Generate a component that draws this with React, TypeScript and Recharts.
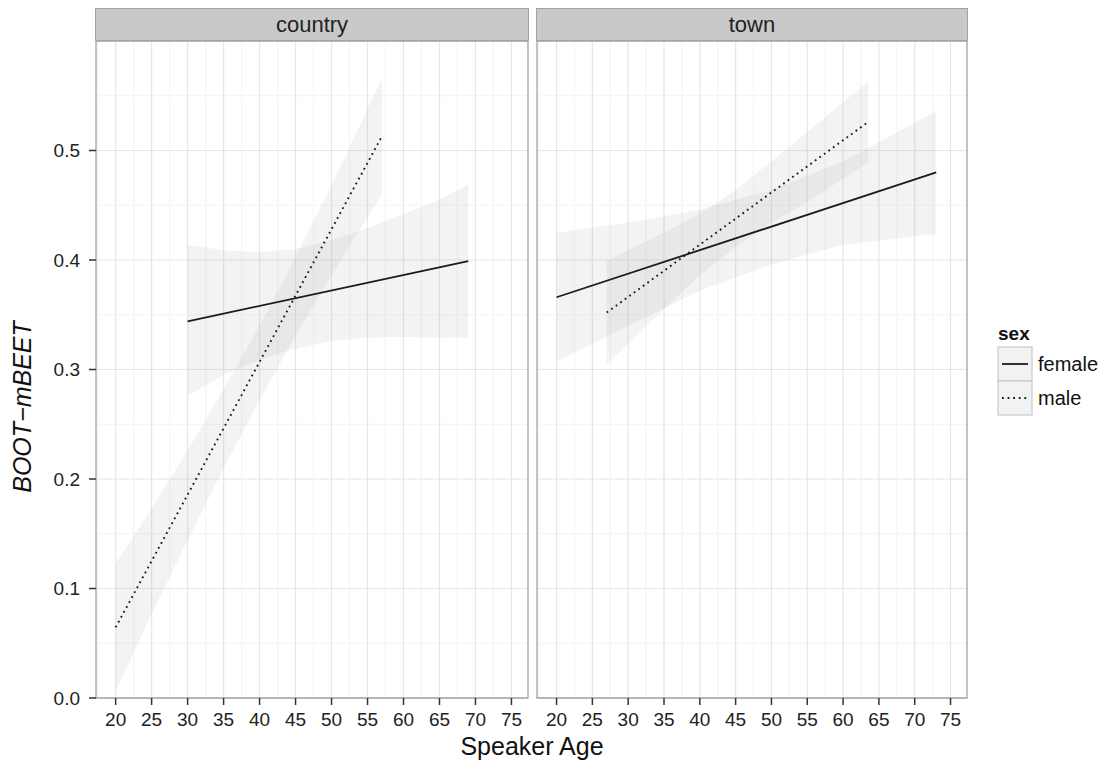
import React from 'react'
import {
  ComposedChart,
  Line,
  Area,
  XAxis,
  YAxis,
  CartesianGrid,
  ReferenceArea,
} from 'recharts'

// axes
const X_DOMAIN: [number, number] = [17.27, 77.3]
const Y_DOMAIN: [number, number] = [0, 0.6]
const xTicks = [20, 25, 30, 35, 40, 45, 50, 55, 60, 65, 70, 75]
const xMinor = [17.5, 22.5, 27.5, 32.5, 37.5, 42.5, 47.5, 52.5, 57.5, 62.5, 67.5, 72.5]
const yTicks = [0, 0.1, 0.2, 0.3, 0.4, 0.5]
const yMinor = [0.05, 0.15, 0.25, 0.35, 0.45, 0.55]

// facet: country
const countryFemaleFit = [
  { age: 30, v: 0.344 },
  { age: 69, v: 0.399 },
]
const countryFemaleBand = [
  { age: 30, lo: 0.276, hi: 0.414 },
  { age: 35, lo: 0.295, hi: 0.409 },
  { age: 40, lo: 0.309, hi: 0.407 },
  { age: 45, lo: 0.319, hi: 0.410 },
  { age: 50, lo: 0.326, hi: 0.418 },
  { age: 55, lo: 0.329, hi: 0.429 },
  { age: 60, lo: 0.330, hi: 0.442 },
  { age: 65, lo: 0.329, hi: 0.455 },
  { age: 69, lo: 0.329, hi: 0.469 },
]
const countryMaleFit = [
  { age: 20, v: 0.0645 },
  { age: 57, v: 0.513 },
]
const countryMaleBand = [
  { age: 20, lo: 0.006, hi: 0.123 },
  { age: 25, lo: 0.077, hi: 0.173 },
  { age: 30, lo: 0.144, hi: 0.226 },
  { age: 35, lo: 0.210, hi: 0.282 },
  { age: 40, lo: 0.272, hi: 0.340 },
  { age: 45, lo: 0.331, hi: 0.403 },
  { age: 50, lo: 0.386, hi: 0.468 },
  { age: 57, lo: 0.460, hi: 0.566 },
]

// facet: town
const townFemaleFit = [
  { age: 20, v: 0.366 },
  { age: 73, v: 0.48 },
]
const townFemaleBand = [
  { age: 20, lo: 0.307, hi: 0.425 },
  { age: 30, lo: 0.340, hi: 0.434 },
  { age: 40, lo: 0.372, hi: 0.446 },
  { age: 50, lo: 0.396, hi: 0.464 },
  { age: 60, lo: 0.414, hi: 0.490 },
  { age: 73, lo: 0.424, hi: 0.536 },
]
const townMaleFit = [
  { age: 27, v: 0.352 },
  { age: 63.5, v: 0.526 },
]
const townMaleBand = [
  { age: 27, lo: 0.305, hi: 0.399 },
  { age: 35, lo: 0.355, hi: 0.425 },
  { age: 40, lo: 0.386, hi: 0.442 },
  { age: 45, lo: 0.412, hi: 0.464 },
  { age: 50, lo: 0.434, hi: 0.490 },
  { age: 55, lo: 0.453, hi: 0.517 },
  { age: 63.5, lo: 0.489, hi: 0.563 },
]

const FONT = '"Liberation Sans", Arial, Helvetica, sans-serif'
const INK = '#1A1A1A'
const DOTTED = '1.8 3.8'

type Pt = { age: number; v: number }
type Band = { age: number; lo: number; hi: number }

const scaleOf = (axis: any, v: number, fallback: () => number) => {
  const s = axis?.scale
  if (typeof s === 'function') return s(v)
  if (s && typeof s.map === 'function') return s.map(v)
  return fallback()
}

const vGen = (vals: number[]) => (props: any) =>
  vals.map((v) =>
    scaleOf(props.xAxis, v, () =>
      props.offset.left + ((v - X_DOMAIN[0]) / (X_DOMAIN[1] - X_DOMAIN[0])) * props.offset.width
    )
  )
const hGen = (vals: number[]) => (props: any) =>
  vals.map((v) =>
    scaleOf(props.yAxis, v, () =>
      props.offset.top + (1 - (v - Y_DOMAIN[0]) / (Y_DOMAIN[1] - Y_DOMAIN[0])) * props.offset.height
    )
  )

interface PanelProps {
  left: number
  width: number
  margin: { top: number; right: number; bottom: number; left: number }
  showY: boolean
  femaleFit: Pt[]
  femaleBand: Band[]
  maleFit: Pt[]
  maleBand: Band[]
}

function Panel(p: PanelProps) {
  const tickStyle = { fill: '#222', fontSize: 19, fontFamily: FONT }
  return (
    <div style={{ position: 'absolute', left: p.left, top: 0 }}>
      <ComposedChart width={p.width} height={760} margin={p.margin}>
        <CartesianGrid
          stroke="#F4F4F4"
          strokeWidth={1.2}
          verticalCoordinatesGenerator={vGen(xMinor)}
          horizontalCoordinatesGenerator={hGen(yMinor)}
        />
        <CartesianGrid
          stroke="#E6E6E6"
          strokeWidth={1.2}
          verticalCoordinatesGenerator={vGen(xTicks)}
          horizontalCoordinatesGenerator={hGen(yTicks)}
        />
        <XAxis
          type="number"
          dataKey="age"
          domain={X_DOMAIN}
          ticks={xTicks}
          allowDataOverflow
          axisLine={false}
          tickSize={7}
          tickMargin={8}
          tickLine={{ stroke: '#333', strokeWidth: 1.5 }}
          tick={tickStyle}
          height={40}
          interval={0}
        />
        <YAxis
          type="number"
          domain={Y_DOMAIN}
          ticks={yTicks}
          allowDataOverflow
          hide={!p.showY}
          width={p.showY ? 60 : 0}
          axisLine={false}
          tickSize={7}
          tickMargin={9}
          tickLine={{ stroke: '#333', strokeWidth: 1.5 }}
          tick={tickStyle}
          tickFormatter={(v: number) => v.toFixed(1)}
          interval={0}
        />
        <Area
          data={p.femaleBand}
          dataKey={(d: Band) => [d.lo, d.hi]}
          stroke="none"
          fill="#999999"
          fillOpacity={0.12}
          isAnimationActive={false}
          dot={false}
          activeDot={false}
        />
        <Area
          data={p.maleBand}
          dataKey={(d: Band) => [d.lo, d.hi]}
          stroke="none"
          fill="#999999"
          fillOpacity={0.12}
          isAnimationActive={false}
          dot={false}
          activeDot={false}
        />
        <Line
          data={p.femaleFit}
          dataKey="v"
          stroke={INK}
          strokeWidth={1.8}
          dot={false}
          activeDot={false}
          isAnimationActive={false}
        />
        <Line
          data={p.maleFit}
          dataKey="v"
          stroke={INK}
          strokeWidth={1.9}
          strokeDasharray={DOTTED}
          dot={false}
          activeDot={false}
          isAnimationActive={false}
        />
        <ReferenceArea
          x1={X_DOMAIN[0]}
          x2={X_DOMAIN[1]}
          y1={Y_DOMAIN[0]}
          y2={Y_DOMAIN[1]}
          fill="none"
          stroke="#A3A3A3"
          strokeWidth={1.3}
          ifOverflow="visible"
        />
      </ComposedChart>
    </div>
  )
}

function Strip({ left, width, label }: { left: number; width: number; label: string }) {
  return (
    <div
      style={{
        position: 'absolute',
        left,
        top: 8,
        width,
        height: 33,
        boxSizing: 'border-box',
        background: '#C9C9C9',
        border: '1.3px solid #A3A3A3',
        display: 'flex',
        alignItems: 'center',
        justifyContent: 'center',
        fontFamily: FONT,
        fontSize: 22,
        color: '#222',
      }}
    >
      {label}
    </div>
  )
}

export default function App() {
  return (
    <div
      style={{
        position: 'absolute',
        left: 0,
        top: 0,
        width: 1111,
        height: 760,
        background: '#fff',
        overflow: 'hidden',
      }}
    >
      <Panel
        left={0}
        width={530}
        margin={{ top: 41, right: 2, bottom: 22, left: 36 }}
        showY
        femaleFit={countryFemaleFit}
        femaleBand={countryFemaleBand}
        maleFit={countryMaleFit}
        maleBand={countryMaleBand}
      />
      <Panel
        left={530}
        width={440}
        margin={{ top: 41, right: 3, bottom: 22, left: 7 }}
        showY={false}
        femaleFit={townFemaleFit}
        femaleBand={townFemaleBand}
        maleFit={townMaleFit}
        maleBand={townMaleBand}
      />
      <Strip left={95} width={434} label="country" />
      <Strip left={536} width={432} label="town" />
      <svg
        width={1111}
        height={760}
        style={{ position: 'absolute', left: 0, top: 0, pointerEvents: 'none' }}
      >
        <text
          x={22}
          y={407}
          transform="rotate(-90 22 407)"
          textAnchor="middle"
          dominantBaseline="central"
          fontFamily={FONT}
          fontStyle="italic"
          fontSize={25}
          fill="#111"
        >
          BOOT{'\u2212'}mBEET
        </text>
        <text x={532} y={755} textAnchor="middle" fontFamily={FONT} fontSize={25} fill="#111">
          Speaker Age
        </text>
        <text x={998} y={340} fontFamily={FONT} fontSize={19} fontWeight="bold" fill="#111">
          sex
        </text>
        <rect x={998} y={347} width={34} height={34} fill="#F2F2F2" stroke="#CCCCCC" strokeWidth={1.3} />
        <rect x={998} y={381} width={34} height={34} fill="#F2F2F2" stroke="#CCCCCC" strokeWidth={1.3} />
        <line x1={1002} x2={1028} y1={364} y2={364} stroke={INK} strokeWidth={1.8} />
        <line x1={1002} x2={1028} y1={398} y2={398} stroke={INK} strokeWidth={1.9} strokeDasharray={DOTTED} />
        <text x={1038} y={371} fontFamily={FONT} fontSize={20} fill="#111">
          female
        </text>
        <text x={1038} y={405} fontFamily={FONT} fontSize={20} fill="#111">
          male
        </text>
      </svg>
    </div>
  )
}
